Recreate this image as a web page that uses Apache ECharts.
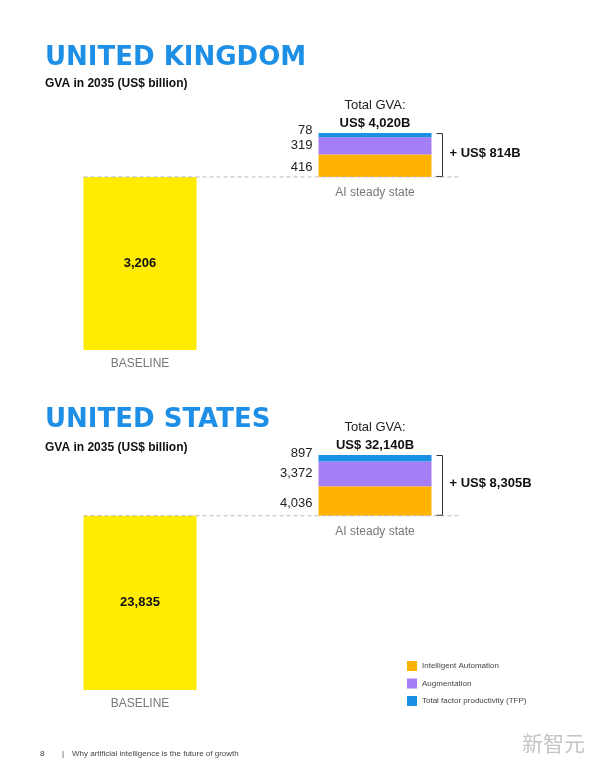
<!DOCTYPE html>
<html>
<head>
<meta charset="utf-8">
<script src="https://cdn.jsdelivr.net/npm/echarts@6/dist/echarts.min.js"></script>
<style>
  html, body { margin: 0; padding: 0; background: #fff; }
  #chart { width: 600px; height: 776px; }
</style>
</head>
<body>
<div id="chart"></div>
<script>
// data
var categories = ['BASELINE', 'AI steady state'];
var countries = ['UNITED KINGDOM', 'UNITED STATES'];
var baseline = [3206, 23835];
var automation = [416, 4036];
var augmentation = [319, 3372];
var tfp = [78, 897];
var totalLabels = ['US$ 4,020B', 'US$ 32,140B'];
var upliftLabels = ['+ US$ 814B', '+ US$ 8,305B'];
var seriesNames = ['Intelligent Automation', 'Augmentation', 'Total factor productivity (TFP)'];
var yMax = [4020, 32140];

var YELLOW = '#FFEC00';
var colors = ['#FFB300', '#A57DF4', '#1B8FE4'];
var TITLE_BLUE = '#1E8FE6';
var barW = 113;

var chart = echarts.init(document.getElementById('chart'));

var grids = [
  {left: 22.5, width: 470, top: 133, height: 217},
  {left: 22.5, width: 470, top: 455, height: 235}
];

function fmt(v) { return Number(v).toLocaleString('en-US'); }

// dashed baseline, total label, bracket and uplift label for one panel
function renderNotes(params, api) {
  var idx = api.value(3);
  var top = api.coord([1, api.value(2)]);
  var base = api.coord([1, api.value(1)]);
  var b0 = api.coord([0, api.value(1)]);
  var cx = top[0], right = cx + barW / 2;
  var font = 'Liberation Sans';
  return {
    type: 'group',
    children: [
      {type: 'line', shape: {x1: b0[0] - barW / 2, y1: base[1], x2: right + 28, y2: base[1]},
        style: {stroke: '#bbb', lineWidth: 1, lineDash: [4, 3]}},
      {type: 'text', x: cx, y: top[1] - 28,
        style: {text: 'Total GVA:', align: 'center', verticalAlign: 'middle', fontSize: 13, fill: '#222', fontFamily: font}},
      {type: 'text', x: cx, y: top[1] - 10,
        style: {text: totalLabels[idx], align: 'center', verticalAlign: 'middle', fontSize: 13, fontWeight: 'bold', fill: '#111', fontFamily: font}},
      {type: 'polyline',
        shape: {points: [[right + 5, top[1] + 0.5], [right + 11, top[1] + 0.5], [right + 11, base[1] - 0.5], [right + 5, base[1] - 0.5]]},
        style: {stroke: '#333', lineWidth: 1, fill: null}},
      {type: 'text', x: right + 18, y: (top[1] + base[1]) / 2 - 2,
        style: {text: upliftLabels[idx], align: 'left', verticalAlign: 'middle', fontSize: 13, fontWeight: 'bold', fill: '#111', fontFamily: font}}
    ]
  };
}

var xAxes = [], yAxes = [], series = [];
var labelOffsets = [[0, 2], [0, 0], [0, -5]];
for (var i = 0; i < 2; i++) {
  xAxes.push({
    type: 'category', gridIndex: i, data: categories,
    axisLine: {show: false}, axisTick: {show: false},
    axisLabel: {
      margin: 8, fontSize: 12, color: '#777', fontFamily: 'Liberation Sans',
      formatter: function (v, idx) { return idx === 0 ? v : ''; }
    }
  });
  yAxes.push({type: 'value', gridIndex: i, min: 0, max: yMax[i], show: false, splitLine: {show: false}});

  series.push({
    type: 'bar', name: 'base' + i, stack: 's' + i, xAxisIndex: i, yAxisIndex: i,
    barWidth: barW, silent: true,
    data: [
      {value: baseline[i], itemStyle: {color: YELLOW},
        label: {show: true, position: 'inside', formatter: function (p) { return fmt(p.value); },
          fontSize: 13, fontWeight: 'bold', color: '#111', fontFamily: 'Liberation Sans'}},
      {value: baseline[i], itemStyle: {color: 'rgba(0,0,0,0)'},
        label: {show: true, position: 'insideTop', distance: 10, formatter: categories[1],
          fontSize: 12, color: '#777', fontFamily: 'Liberation Sans'}}
    ]
  });
  var parts = [automation, augmentation, tfp];
  for (var k = 0; k < 3; k++) {
    series.push({
      type: 'bar', name: seriesNames[k], stack: 's' + i, xAxisIndex: i, yAxisIndex: i,
      barWidth: barW, silent: true,
      itemStyle: {color: colors[k]},
      label: {show: true, position: 'left', distance: 6, offset: labelOffsets[k],
        formatter: function (p) { return fmt(p.value); },
        fontSize: 13, color: '#222', fontFamily: 'Liberation Sans'},
      data: ['-', parts[k][i]]
    });
  }
  series.push({
    type: 'custom', name: 'notes' + i, xAxisIndex: i, yAxisIndex: i, silent: true, z: 10,
    clip: false,
    renderItem: renderNotes,
    data: [[1, baseline[i], baseline[i] + automation[i] + augmentation[i] + tfp[i], i]]
  });
}

var titles = [];
var titleTops = [45, 407], subTops = [78, 442];
for (var i = 0; i < 2; i++) {
  titles.push({text: countries[i], left: 45, top: titleTops[i], padding: 0,
    textStyle: {color: TITLE_BLUE, fontSize: 26, fontWeight: 900, fontFamily: 'DejaVu Sans'}});
  titles.push({text: 'GVA in 2035 (US$ billion)', left: 45, top: subTops[i], padding: 0,
    textStyle: {color: '#111', fontSize: 12, fontWeight: 'bold', fontFamily: 'Liberation Sans'}});
}
var footStyle = {fontSize: 8, color: '#444', fontWeight: 'normal', fontFamily: 'Liberation Sans'};
titles.push({text: '8', left: 40, top: 750, padding: 0, textStyle: footStyle});
titles.push({text: '|', left: 62, top: 750, padding: 0, textStyle: footStyle});
titles.push({text: 'Why artificial intelligence is the future of growth', left: 72, top: 750, padding: 0, textStyle: footStyle});
titles.push({text: '新智元', left: 522, top: 733, padding: 0,
  textStyle: {fontSize: 21, color: '#c4c4c4', fontWeight: 'normal', fontFamily: 'Noto Sans CJK SC'}});

chart.setOption({
  animation: false,
  title: titles,
  grid: grids,
  xAxis: xAxes,
  yAxis: yAxes,
  legend: {
    data: seriesNames, orient: 'vertical', left: 407, top: 661, padding: 0,
    itemWidth: 10, itemHeight: 10, itemGap: 7.5, icon: 'rect',
    selectedMode: false,
    textStyle: {fontSize: 8, color: '#444', fontFamily: 'Liberation Sans'}
  },
  series: series
});
</script>
</body>
</html>
